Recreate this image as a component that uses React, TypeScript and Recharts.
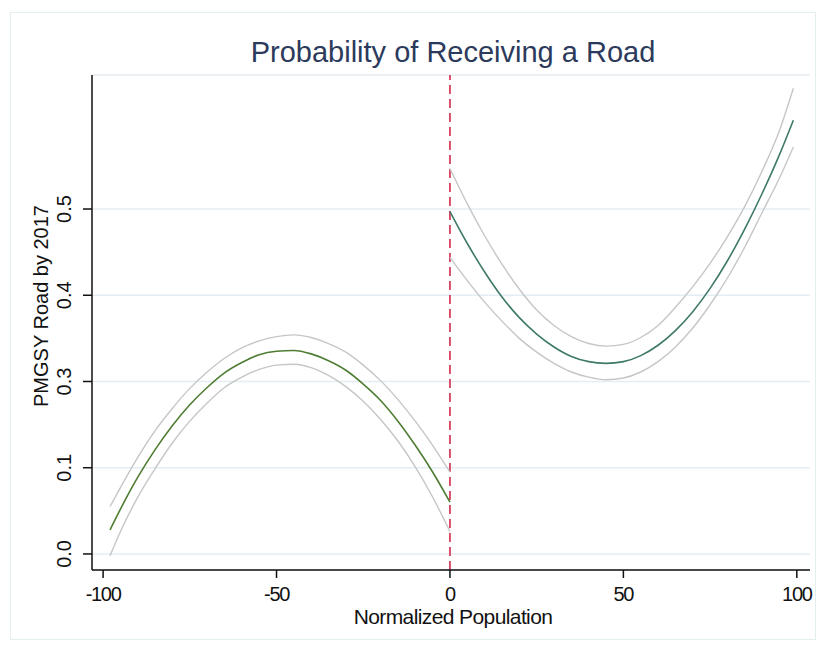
import React from 'react';
import { ComposedChart, Line, XAxis, YAxis, CartesianGrid, ReferenceLine } from 'recharts';

const leftX = [-98, -95, -90, -85, -80, -75, -70, -65, -60, -55, -50, -45, -40, -35, -30, -25, -20, -15, -10, -5, 0];
const leftFit = [0.028, 0.052, 0.089, 0.121, 0.149, 0.173, 0.193, 0.21, 0.222, 0.231, 0.235, 0.236, 0.232, 0.224, 0.213, 0.197, 0.178, 0.154, 0.126, 0.095, 0.06];
const leftUpper = [0.055, 0.077, 0.112, 0.143, 0.169, 0.192, 0.211, 0.227, 0.239, 0.247, 0.252, 0.254, 0.251, 0.244, 0.234, 0.219, 0.201, 0.179, 0.154, 0.126, 0.095];
const leftLower = [-0.002, 0.026, 0.066, 0.099, 0.129, 0.154, 0.175, 0.193, 0.205, 0.214, 0.219, 0.22, 0.216, 0.207, 0.194, 0.177, 0.156, 0.131, 0.101, 0.066, 0.026];

const rightX = [0, 5, 10, 15, 20, 25, 30, 35, 40, 45, 50, 55, 60, 65, 70, 75, 80, 85, 90, 95, 99];
const rightFit = [0.397, 0.36, 0.327, 0.298, 0.274, 0.255, 0.24, 0.229, 0.223, 0.221, 0.223, 0.23, 0.242, 0.259, 0.281, 0.308, 0.34, 0.377, 0.418, 0.463, 0.503];
const rightUpper = [0.447, 0.406, 0.369, 0.336, 0.307, 0.283, 0.265, 0.252, 0.244, 0.241, 0.243, 0.251, 0.265, 0.286, 0.31, 0.337, 0.368, 0.403, 0.444, 0.491, 0.54];
const rightLower = [0.344, 0.317, 0.292, 0.27, 0.25, 0.234, 0.221, 0.211, 0.205, 0.202, 0.204, 0.211, 0.223, 0.24, 0.262, 0.289, 0.32, 0.356, 0.396, 0.436, 0.472];

const xTicks = [-100, -50, 0, 50, 100];
const yTicks = [0, 0.1, 0.2, 0.3, 0.4];
const yTickLabels = ['0.0', '0.1', '0.3', '0.4', '0.5'];

const title = 'Probability of Receiving a Road';
const xTitle = 'Normalized Population';
const yTitle = 'PMGSY Road by 2017';

const toPts = (xs: number[], ys: number[]) => xs.map((x, i) => ({ x, y: ys[i] }));

const FONT = '"Liberation Sans", Arial, sans-serif';

const YTick = (props: any) => {
  const { x, y, payload } = props;
  const i = yTicks.indexOf(payload.value);
  return (
    <text x={x} y={y} transform={`rotate(-90 ${x} ${y})`} textAnchor="middle" fontSize={20} fontFamily={FONT} fill="#111">
      {yTickLabels[i]}
    </text>
  );
};

const XTick = (props: any) => {
  const { x, y, payload } = props;
  return (
    <text x={x} y={y} dy="0.71em" textAnchor="middle" fontSize={20} letterSpacing={-1.3} fontFamily={FONT} fill="#111">
      {String(payload.value)}
    </text>
  );
};

export default function App() {
  const ciColor = '#c6c6c6';
  return (
    <div style={{ position: 'absolute', left: 0, top: 0, width: 819, height: 646, background: '#fff' }}>
      <div style={{ position: 'absolute', left: 10, top: 12, width: 806, height: 628, border: '1px solid #e3eeee', boxSizing: 'border-box' }} />
      <div style={{ position: 'absolute', left: 0, top: 0 }}>
        <ComposedChart width={819} height={646} margin={{ top: 75, right: 9, bottom: 0, left: 0 }}>
          <text x={453} y={62} textAnchor="middle" fontSize={29} fontFamily={FONT} fill="#2c3a5c">{title}</text>
          <CartesianGrid horizontal vertical={false} stroke="#e4edf1" strokeWidth={1.5} />
          <XAxis
            type="number"
            dataKey="x"
            domain={[-103.2, 103.8]}
            ticks={xTicks}
            allowDataOverflow
            height={76}
            tickSize={8}
            tickMargin={9}
            tick={<XTick />}
            axisLine={{ stroke: '#111', strokeWidth: 1.5 }}
            tickLine={{ stroke: '#111', strokeWidth: 1.5 }}
            label={{
              content: (p: any) => {
                const vb = p.viewBox;
                return (
                  <text x={vb.x + vb.width / 2 + 2} y={624} textAnchor="middle" fontSize={21} letterSpacing={-0.6} fontFamily={FONT} fill="#111">
                    {xTitle}
                  </text>
                );
              },
            }}
          />
          <YAxis
            type="number"
            domain={[-0.0186, 0.5554]}
            ticks={yTicks}
            allowDataOverflow
            width={92}
            tickSize={9}
            tickMargin={12}
            tick={<YTick />}
            axisLine={{ stroke: '#111', strokeWidth: 1.5 }}
            tickLine={{ stroke: '#111', strokeWidth: 1.5 }}
            label={{
              content: () => (
                <text x={48} y={306} transform="rotate(-90 48 306)" textAnchor="middle" fontSize={20} fontFamily={FONT} fill="#111">
                  {yTitle}
                </text>
              ),
            }}
          />
          <ReferenceLine x={0} stroke="#d42a4c" strokeWidth={1.6} strokeDasharray="9 5" />
          <Line data={toPts(leftX, leftUpper)} dataKey="y" type="monotone" dot={false} stroke={ciColor} strokeWidth={1.4} isAnimationActive={false} />
          <Line data={toPts(leftX, leftLower)} dataKey="y" type="monotone" dot={false} stroke={ciColor} strokeWidth={1.4} isAnimationActive={false} />
          <Line data={toPts(leftX, leftFit)} dataKey="y" type="monotone" dot={false} stroke="#4f7d33" strokeWidth={1.6} isAnimationActive={false} />
          <Line data={toPts(rightX, rightUpper)} dataKey="y" type="monotone" dot={false} stroke={ciColor} strokeWidth={1.4} isAnimationActive={false} />
          <Line data={toPts(rightX, rightLower)} dataKey="y" type="monotone" dot={false} stroke={ciColor} strokeWidth={1.4} isAnimationActive={false} />
          <Line data={toPts(rightX, rightFit)} dataKey="y" type="monotone" dot={false} stroke="#3f7a68" strokeWidth={1.6} isAnimationActive={false} />
        </ComposedChart>
      </div>
    </div>
  );
}
